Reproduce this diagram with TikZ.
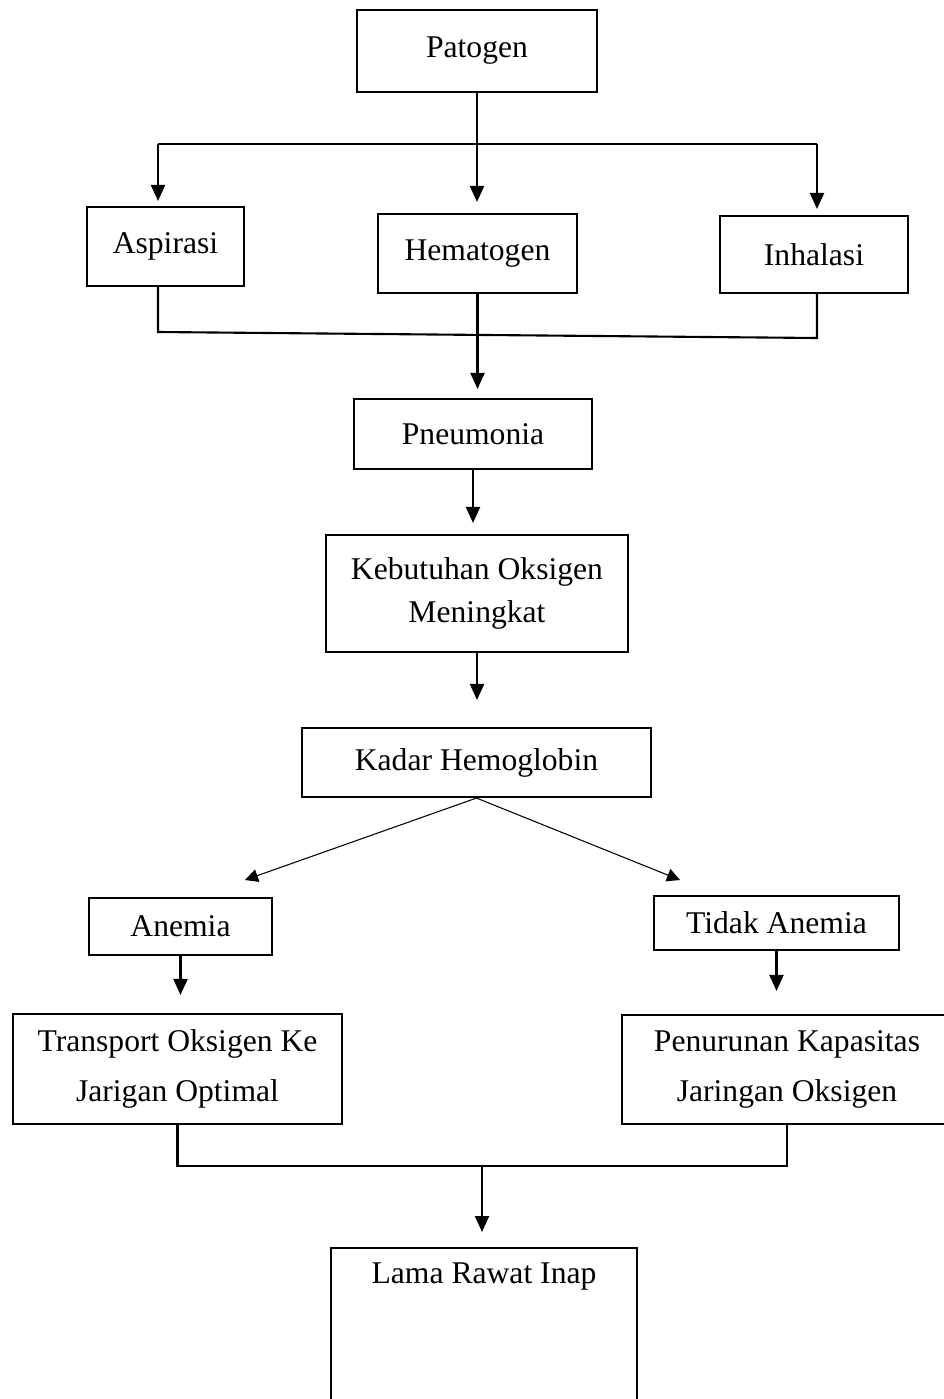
\documentclass[tikz,border=0pt]{standalone}
\usepackage{fontspec}
\setmainfont{Liberation Serif}
\usepackage{tikz}
\usetikzlibrary{arrows.meta}

\begin{document}
\begin{tikzpicture}[
        x=0.02cm, y=-0.02cm,
        box/.style={rectangle, draw, line width=1.2pt, inner sep=0pt, align=center, font=\fontsize{18}{24}\selectfont},
        arr/.style={-{Triangle[length=0.32cm, width=0.28cm]}, line width=1.2pt},
        thinarr/.style={-{Triangle[length=0.26cm, width=0.26cm]}, line width=0.6pt},
        link/.style={line width=1.2pt},
    ]
        \useasboundingbox (0,0) rectangle (943,1399);

        % Row 1
        \node[box, minimum width=4.8cm, minimum height=1.64cm] (pat) at (477,51) {Patogen};

        % Row 2
        \node[box, minimum width=3.14cm, minimum height=1.58cm] (asp) at (165.5,246.5) {Aspirasi};
        \node[box, minimum width=3.98cm, minimum height=1.58cm] (hem) at (477.5,253.5) {Hematogen};
        \node[box, minimum width=3.76cm, minimum height=1.54cm] (inh) at (814,254.5) {Inhalasi};

        % Row 3 - 5
        \node[box, minimum width=4.76cm, minimum height=1.4cm] (pneu) at (473,434) {Pneumonia};
        \node[box, minimum width=6.04cm, minimum height=2.34cm] (keb) at (477,593.5) {Kebutuhan Oksigen\\Meningkat};
        \node[box, minimum width=6.98cm, minimum height=1.38cm] (kadar) at (476.5,762.5) {Kadar Hemoglobin};

        % Row 6
        \node[box, minimum width=3.66cm, minimum height=1.14cm] (ane) at (180.5,926.5) {Anemia};
        \node[box, minimum width=4.9cm, minimum height=1.08cm] (tdk) at (776.5,923) {Tidak Anemia};

        % Row 7
        \node[box, minimum width=6.58cm, minimum height=2.2cm] (trans) at (177.5,1069) {Transport Oksigen Ke\\[4pt]Jarigan Optimal};
        \node[box, minimum width=6.6cm, minimum height=2.18cm] (pen) at (787,1069.5) {Penurunan Kapasitas\\[4pt]Jaringan Oksigen};

        % Row 8
        \node[box, anchor=north, minimum width=6.12cm, text height=0.7cm, text depth=2.6cm] (lama) at (484,1247) {Lama Rawat Inap};

        % Junctions
        \coordinate (forkL) at (158,144);
        \coordinate (forkR) at (817,144);
        \coordinate (joinAL) at (158,332);
        \coordinate (joinAR) at (817,338);
        \coordinate (tipL) at (245,880);
        \coordinate (tipR) at (680,880);
        \coordinate (join) at (482,1166);

        % Arrows
        \draw[link] (pat.south) -- (pat.south |- forkL);
        \draw[link] (forkL) -- (forkR);
        \draw[arr, shorten >=0.1cm] (forkL) -- (forkL |- asp.north);
        \draw[arr, shorten >=0.22cm] (pat.south |- forkL) -- (pat.south |- hem.north);
        \draw[arr, shorten >=0.12cm] (forkR) -- (forkR |- inh.north);
        \draw[link] (asp.south -| joinAL) -- (joinAL) -- (joinAR) -- (inh.south -| joinAR);
        \draw[arr, shorten >=0.18cm] (hem.south) -- (hem.south |- pneu.north);
        \draw[arr, shorten >=0.22cm] (pneu.south) -- (pneu.south |- keb.north);
        \draw[arr, shorten >=0.54cm] (keb.south) -- (keb.south |- kadar.north);
        \draw[thinarr] (kadar.south) -- (tipL);
        \draw[thinarr] (kadar.south) -- (tipR);
        \draw[arr, shorten >=0.36cm] (ane.south) -- (ane.south |- trans.north);
        \draw[arr, shorten >=0.46cm] (tdk.south) -- (tdk.south |- pen.north);
        \draw[link] (trans) |- (join) -| (pen);
        \draw[arr, shorten >=0.3cm] (join) -- (join |- lama.north);
    \end{tikzpicture}
\end{document}
